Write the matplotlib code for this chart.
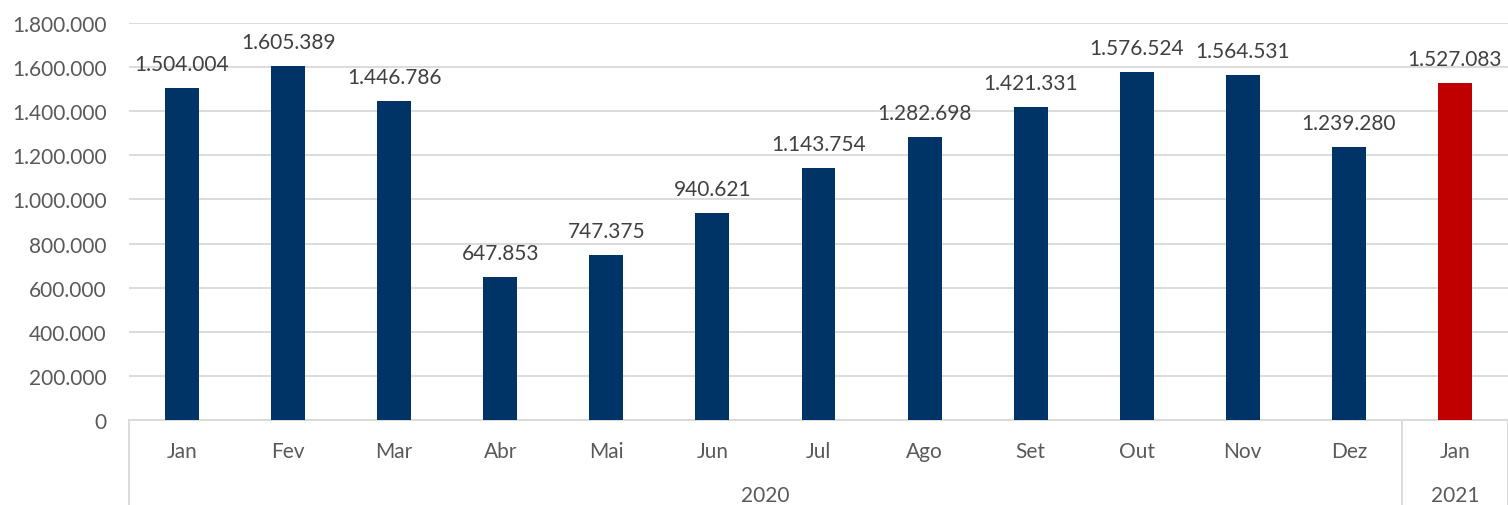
import matplotlib.pyplot as plt
from matplotlib.ticker import FuncFormatter
import matplotlib.transforms as mtransforms

plt.rcParams['font.family'] = ['Lato', 'DejaVu Sans']

months = ["Jan", "Fev", "Mar", "Abr", "Mai", "Jun", "Jul",
          "Ago", "Set", "Out", "Nov", "Dez", "Jan"]
values = [1504004, 1605389, 1446786, 647853, 747375, 940621, 1143754,
          1282698, 1421331, 1576524, 1564531, 1239280, 1527083]
years = ["2020", "2021"]
year_sizes = [12, 1]

navy = "#003366"
red = "#C00000"
text_color = "#595959"
grid_color = "#D9D9D9"


def br_format(v, pos=None):
    return f"{int(v):,}".replace(",", ".")


fig = plt.figure(figsize=(15.08, 5.06), dpi=100)
ax = fig.add_axes([129 / 1508, 1 - 421 / 506, 1 - 129 / 1508, (421 - 24) / 506])

x = list(range(len(months)))
colors = [navy] * (len(values) - 1) + [red]
ax.bar(x, values, width=0.32, color=colors, zorder=3)

for xi, v in zip(x, values):
    ax.annotate(br_format(v), (xi, v), xytext=(0, 10), textcoords="offset points",
                ha="center", va="bottom", fontsize=15, color="#404040")

ax.set_xlim(-0.5, len(months) - 0.5)
ax.set_ylim(0, 1800000)
ax.set_yticks(range(0, 1800001, 200000))
ax.yaxis.set_major_formatter(FuncFormatter(br_format))
ax.grid(axis="y", color=grid_color, linewidth=1.3, zorder=0)
ax.set_axisbelow(True)

for s in ["top", "right", "left"]:
    ax.spines[s].set_visible(False)
ax.spines["bottom"].set_color(grid_color)
ax.spines["bottom"].set_linewidth(1.3)

ax.set_xticks(x)
ax.set_xticklabels(months)
ax.tick_params(axis="x", length=0, pad=15, labelsize=15, labelcolor=text_color)
ax.tick_params(axis="y", length=0, pad=16, labelsize=15, labelcolor=text_color)

# year groups below the month labels, with separators between groups
trans = mtransforms.blended_transform_factory(ax.transData, ax.transAxes)
start = -0.5
ax.plot([start, start], [0, -0.3], transform=trans, color=grid_color,
        linewidth=1.3, clip_on=False)
for year, n in zip(years, year_sizes):
    end = start + n
    ax.text((start + end) / 2, -0.19, year, transform=trans, ha="center",
            va="center", fontsize=15, color=text_color)
    ax.plot([end, end], [0, -0.3], transform=trans, color=grid_color,
            linewidth=1.3, clip_on=False)
    start = end

fig.savefig("out.png", dpi=100)
